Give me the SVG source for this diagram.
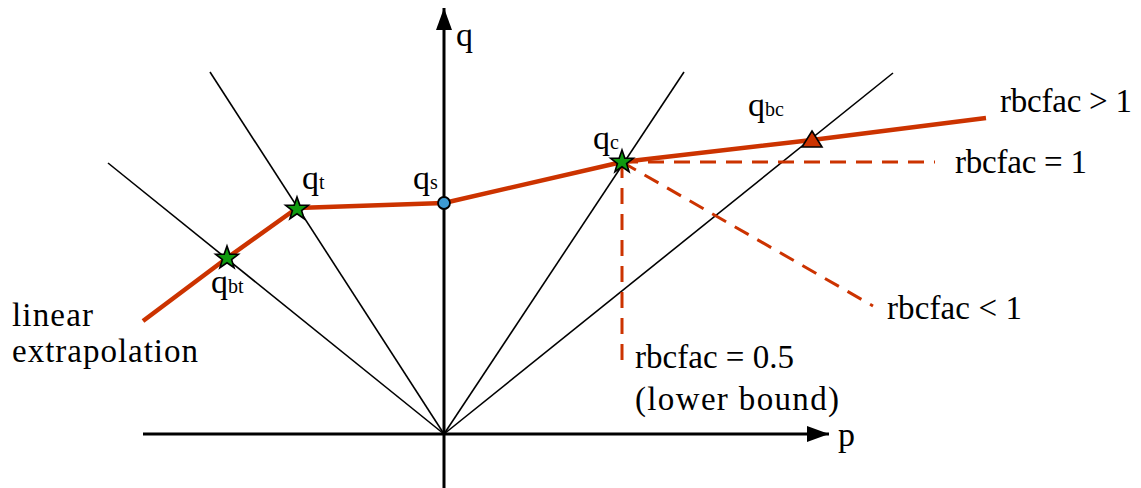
<svg xmlns="http://www.w3.org/2000/svg" width="1141" height="488" viewBox="0 0 1141 488">
<style>
text{font-family:"Liberation Serif",serif;fill:#000}
.lbl{font-size:33px}
.ql{font-size:34px}
.sub{font-size:20px}
.ray{stroke:#000;stroke-width:1.6;fill:none}
.axis{stroke:#000;stroke-width:3;fill:none}
.curve{stroke:#cc3300;stroke-width:4.5;fill:none;stroke-linejoin:round}
.dash{stroke:#cc3300;stroke-width:3;fill:none;stroke-dasharray:16 10}
.star{fill:#109a10;stroke:#000;stroke-width:1.6}
</style>
<defs>
<marker id="arr" viewBox="0 0 22 16" refX="22" refY="8" markerWidth="22" markerHeight="16" markerUnits="userSpaceOnUse" orient="auto">
<path d="M0,0 L22,8 L0,16 Z" fill="#000"/>
</marker>
<path id="starShape" d="M0,-12 L2.8,-3.9 L11.4,-3.7 L4.6,1.5 L7.1,9.7 L0,4.8 L-7.1,9.7 L-4.6,1.5 L-11.4,-3.7 L-2.8,-3.9 Z"/>
</defs>
<g id="connectors">
<line class="ray" x1="108" y1="163" x2="444" y2="434"/>
<line class="ray" x1="210" y1="72" x2="444" y2="434"/>
<line class="ray" x1="684" y1="72" x2="444" y2="434"/>
<line class="ray" x1="893" y1="73" x2="444" y2="434"/>
<line class="axis" x1="444" y1="488" x2="444" y2="8" marker-end="url(#arr)"/>
<line class="axis" x1="143" y1="434" x2="829" y2="434" marker-end="url(#arr)"/>
<line class="dash" x1="622" y1="162" x2="935" y2="162"/>
<line class="dash" x1="622" y1="162" x2="873" y2="306"/>
<line class="dash" x1="622" y1="162" x2="622" y2="370"/>
<polyline class="curve" points="143,321 227,258 297,208 444,203 622,162 812,140 986,118"/>
</g>
<g id="axis-labels">
<text class="ql" x="456" y="46">q</text>
<text class="ql" x="838" y="446">p</text>
</g>
<g id="node-qbt">
<use href="#starShape" class="star" x="227" y="258"/>
<text class="ql" x="211" y="293">q<tspan class="sub">bt</tspan></text>
</g>
<g id="node-qt">
<use href="#starShape" class="star" x="297" y="209"/>
<text class="ql" x="302" y="189">q<tspan class="sub">t</tspan></text>
</g>
<g id="node-qs">
<circle cx="444" cy="203" r="6" fill="#3d9bd4" stroke="#000" stroke-width="1.8"/>
<text class="ql" x="413" y="189">q<tspan class="sub">s</tspan></text>
</g>
<g id="node-qc">
<use href="#starShape" class="star" x="622" y="162"/>
<text class="ql" x="593" y="149">q<tspan class="sub">c</tspan></text>
</g>
<g id="node-qbc">
<path d="M812,131 L822,147 L802,147 Z" fill="#cc3300" stroke="#000" stroke-width="1.6" stroke-linejoin="miter"/>
<text class="ql" x="748" y="116">q<tspan class="sub">bc</tspan></text>
</g>
<g id="labels">
<text class="lbl" x="1000" y="112" textLength="132">rbcfac &gt; 1</text>
<text class="lbl" x="955" y="173" textLength="132">rbcfac = 1</text>
<text class="lbl" x="887" y="319" textLength="135">rbcfac &lt; 1</text>
<text class="lbl" x="635" y="368" textLength="159">rbcfac = 0.5</text>
<text class="lbl" x="635" y="410" textLength="204">(lower bound)</text>
<text class="lbl" x="12" y="326" textLength="81">linear</text>
<text class="lbl" x="12" y="362" textLength="186">extrapolation</text>
</g>
</svg>
